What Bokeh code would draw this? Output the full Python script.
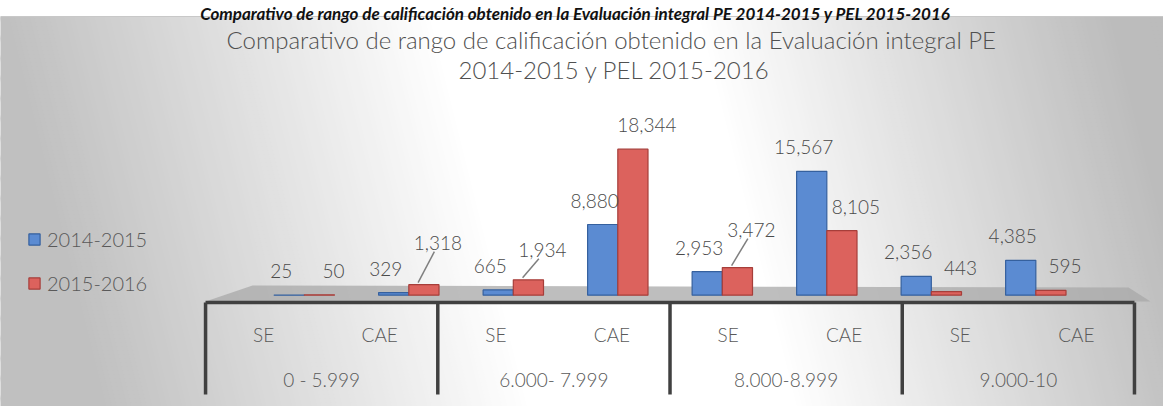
from bokeh.plotting import figure
from bokeh.models import FactorRange, Range1d, Legend, LegendItem, ColumnDataSource
from bokeh.transform import dodge
from bokeh.core.properties import value
from bokeh.embed import file_html
from bokeh.resources import INLINE

# ---------------- data ----------------
groups = ["0 - 5.999", "6.000- 7.999", "8.000-8.999", "9.000-10"]
subs = ["SE", "CAE"]
series = ["2014-2015", "2015-2016"]
values_2014_2015 = [25, 329, 665, 8880, 2953, 15567, 2356, 4385]
values_2015_2016 = [50, 1318, 1934, 18344, 3472, 8105, 443, 595]

caption = "Comparativo de  rango de calificación obtenido en la Evaluación integral PE 2014-2015 y PEL 2015-2016"
title_line1 = "Comparativo de  rango de calificación obtenido en la Evaluación integral PE"
title_line2 = "2014-2015 y PEL 2015-2016"

# ---------------- layout / style ----------------
W, H = 1163, 406
PX = 125.64            # data units per screen pixel
BASE = 294.7           # screen y of the value 0
PAD = 1.008            # categorical range padding (synthetic units)
SHIFT = 0.758          # categorical shift (asymmetric padding)
BW = 0.26              # bar width
U = W / (8 + 2 * PAD)  # pixels per synthetic unit
PERSP = 0.9            # bars drawn slightly compressed toward the centre (3-D look)
FONT_NAME = "Lato Light"
FONT = value(FONT_NAME)
TXT = "#595959"
LBL = "#4a4a4a"
BLUE, BLUE_L = "#5b8bd2", "#35609e"
RED, RED_L = "#dc625d", "#a63e3a"
lift_2015 = [0, 18, 6, 0, 14, 0, 0, 0]   # extra label lift (px) for leader-line labels

def X(px):
    """screen x (px from left of canvas) -> synthetic categorical coordinate"""
    return -PAD + px / U

factors = [(g, s) for g in groups for s in subs]
C_SYN = X(670)
bar_pos = [(g, s, (C_SYN - (i + 0.5 + SHIFT)) * (1 - PERSP))
           for i, (g, s) in enumerate(factors)]

x_range = FactorRange(*factors, factor_padding=0, group_padding=0,
                      range_padding=PAD, range_padding_units="absolute")
y_range = Range1d(-(H - BASE) * PX, BASE * PX)

p = figure(width=W, height=H, x_range=x_range, y_range=y_range,
           output_backend="svg", toolbar_location=None, min_border=0,
           x_axis_location=None, y_axis_location=None,
           outline_line_color=None, background_fill_color="white",
           border_fill_color="white")
p.xgrid.visible = False
p.ygrid.visible = False
p.extra_y_ranges = {"py": Range1d(H, 0)}

# ---------------- background gradient ----------------
TOP = 16
TILT = 0.25
def shade(t):
    if t <= 0:
        g = 192
    elif t < 430:
        g = 192 + (255 - 192) * t / 430
    elif t < 690:
        g = 255
    elif t < 1110:
        g = 255 - (255 - 188) * (t - 690) / 420
    else:
        g = 188
    g = int(round(g))
    return "#%02x%02x%02x" % (g, g, g)

xs, ys, cs = [], [], []
dt = 5
t = -160
while t < W + 10:
    xs.append([X(t + TILT * TOP), X(t + dt + 1 + TILT * TOP),
               X(t + dt + 1 + TILT * H), X(t + TILT * H)])
    ys.append([TOP, TOP, H, H])
    cs.append(shade(t + dt / 2))
    t += dt
p.patches(xs, ys, fill_color=cs, line_color=None, y_range_name="py")
p.segment(x0=[X(0)], y0=[TOP], x1=[X(W)], y1=[TOP], line_color="#c8c8c8",
          line_width=1, y_range_name="py")

# caption (above the chart panel)
p.text(x=[X(577)], y=[13], text=[caption], text_font=value("Lato"),
       text_font_style="bold italic", text_font_size="17px", text_color="#111111",
       text_align="center", text_baseline="alphabetic", y_range_name="py")

# title
p.text(x=[X(614), X(614)], y=[39, 69], text=[title_line1, title_line2], text_font=FONT,
       text_font_size="24px", text_color="#505050", text_align="center",
       text_baseline="middle", y_range_name="py")

# floor
p.patch([X(205), X(252), X(1128), X(1150)], [301, 285, 287, 301], fill_color="#a8a8a8",
        fill_alpha=0.75, line_color=None, y_range_name="py")

# ---------------- bars ----------------
src = ColumnDataSource(dict(
    x=bar_pos, v14=values_2014_2015, v15=values_2015_2016,
    l14=[f"{v:,}" for v in values_2014_2015],
    l15=[f"{v:,}" for v in values_2015_2016],
    o14=[-24] * len(factors),
    o15=[-(24 + l) for l in lift_2015],
))

r14 = p.vbar(x=dodge("x", SHIFT - BW / 2, range=x_range), top="v14", bottom=0,
             width=BW, source=src, fill_color=BLUE, line_color=BLUE_L, line_width=1.2)
r15 = p.vbar(x=dodge("x", SHIFT + BW / 2, range=x_range), top="v15", bottom=0,
             width=BW, source=src, fill_color=RED, line_color=RED_L, line_width=1.2)

p.text(x=dodge("x", SHIFT - BW / 2, range=x_range), y="v14", text="l14",
       x_offset=-8, y_offset="o14", source=src, text_font=FONT,
       text_font_size="19px", text_color=LBL, text_align="center",
       text_baseline="middle")
p.text(x=dodge("x", SHIFT + BW / 2, range=x_range), y="v15", text="l15",
       x_offset=14, y_offset="o15", source=src, text_font=FONT,
       text_font_size="19px", text_color=LBL, text_align="center",
       text_baseline="middle")

# leader lines for lifted labels
lead_x = [f for f, l in zip(bar_pos, lift_2015) if l > 0]
lead_v = [v for v, l in zip(values_2015_2016, lift_2015) if l > 0]
lead_l = [l for l in lift_2015 if l > 0]
lsrc = ColumnDataSource(dict(
    x=lead_x,
    y0=[v + 2 * PX for v in lead_v],
    y1=[v + (24 + l - 9) * PX for v, l in zip(lead_v, lead_l)],
))
p.segment(x0=dodge("x", SHIFT + BW / 2 - 0.05, range=x_range), y0="y0",
          x1=dodge("x", SHIFT + BW / 2 + 0.09, range=x_range), y1="y1",
          source=lsrc, line_color="#7f7f7f", line_width=1.5)

# ---------------- category table ----------------
sep_src = ColumnDataSource(dict(g=[(g, "SE") for g in groups]))
p.segment(x0=dodge("g", SHIFT - 0.5, range=x_range), y0=302,
          x1=dodge("g", SHIFT - 0.5, range=x_range), y1=394,
          source=sep_src, line_color="#404040", line_width=3.5,
          y_range_name="py")
end_src = ColumnDataSource(dict(a=[(groups[0], "SE")], b=[(groups[-1], "CAE")]))
p.segment(x0=dodge("b", SHIFT + 0.5, range=x_range), y0=302,
          x1=dodge("b", SHIFT + 0.5, range=x_range), y1=394,
          source=end_src, line_color="#404040", line_width=3.5,
          y_range_name="py")
p.segment(x0=dodge("a", SHIFT - 0.5, range=x_range), y0=302,
          x1=dodge("b", SHIFT + 0.5, range=x_range), y1=302,
          source=end_src, line_color="#404040", line_width=3.5,
          y_range_name="py")

lab_src = ColumnDataSource(dict(x=factors, t=[f[1] for f in factors]))
p.text(x=dodge("x", SHIFT, range=x_range), y=334, text="t", source=lab_src,
       text_font=FONT, text_font_size="19px", text_color=TXT,
       text_align="center", text_baseline="middle", y_range_name="py")
grp_src = ColumnDataSource(dict(g=groups))
p.text(x=dodge("g", SHIFT, range=x_range), y=379, text="g", source=grp_src,
       text_font=FONT, text_font_size="19px", text_color=TXT,
       text_align="center", text_baseline="middle", y_range_name="py")

# ---------------- legend ----------------
legend = Legend(items=[LegendItem(label=series[0], renderers=[r14]),
                       LegendItem(label=series[1], renderers=[r15])],
                location=(27, 111), orientation="vertical",
                glyph_width=14, glyph_height=14, label_standoff=6,
                label_text_font=FONT_NAME, label_text_font_size="20px",
                label_text_color=TXT, spacing=20, padding=0, margin=0,
                background_fill_alpha=0, border_line_alpha=0)
p.add_layout(legend)

open("out.html", "w").write(file_html(p, INLINE))
